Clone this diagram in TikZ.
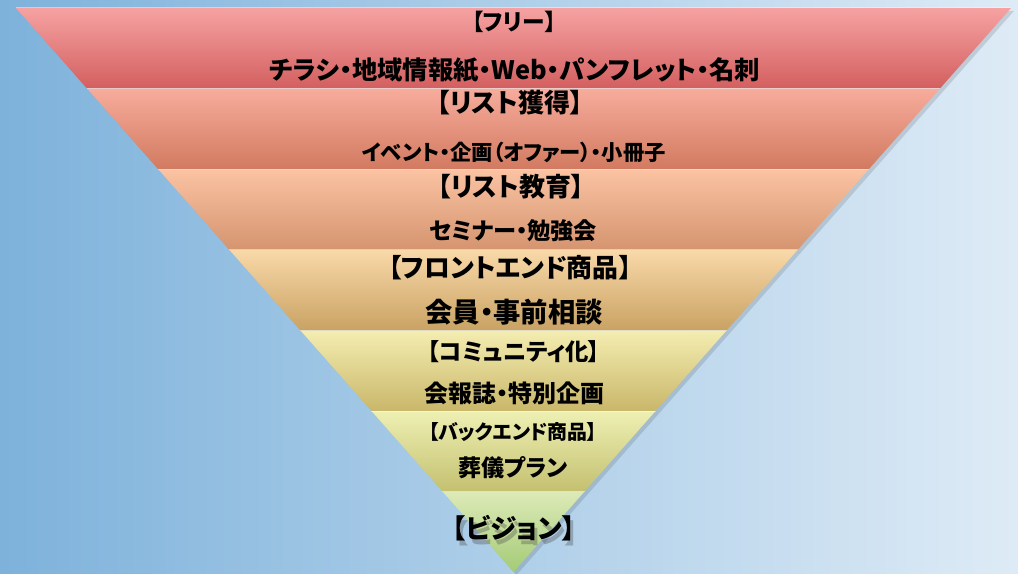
\documentclass[tikz,border=0pt]{standalone}
\usepackage{fontspec}
\newfontfamily\jpfont{Noto Sans CJK JP}[RawFeature=+palt]
\usetikzlibrary{positioning}

\definecolor{bgleft}{HTML}{7EB2DB}
\definecolor{bgright}{HTML}{DEEBF6}

\begin{document}
\begin{tikzpicture}[x=0.75pt,y=-0.75pt,
	head/.style={font=\jpfont\bfseries\fontsize{#1}{#1}\selectfont,inner sep=0pt},
	item/.style={font=\jpfont\bfseries\fontsize{#1}{#1}\selectfont,inner sep=0pt}]
	\useasboundingbox (0,0) rectangle (1018,574);
	\fill[left color=bgleft,right color=bgright] (0,0) rectangle (1018,574);
	\foreach \yt/\yb/\ct/\cb in {8/88.5/F6A2A2/D35F5F, 88.5/169.5/F7AC9C/D27A60, 169.5/250/FBC3A3/D4946F, 250/330.5/F9D9A9/C9A263, 330.5/411/F4EDB1/C9B76A, 411/491.5/EEF0B3/C4C070, 491.5/572/DDEAB8/A4CB76}{
		\definecolor{ctop}{HTML}{\ct}
		\definecolor{cbot}{HTML}{\cb}
		\pgfmathsetmacro\hwt{0.8821*(572-\yt)}
		\pgfmathsetmacro\hwb{0.8821*(572-\yb)}
		\fill[black,opacity=0.12] (513.5-\hwt+3,\yt+3) -- (513.5+\hwt+3,\yt+3) -- (513.5+\hwb+3,\yb+3) -- (513.5-\hwb+3,\yb+3) -- cycle;
		\shade[top color=ctop,bottom color=cbot] (513.5-\hwt,\yt) -- (513.5+\hwt,\yt) -- (513.5+\hwb,\yb) -- (513.5-\hwb,\yb) -- cycle;
		\draw[white,opacity=0.45,line width=0.75pt] (513.5-\hwt,\yt) -- (513.5+\hwt,\yt);
	}
	\node[head=17] (free) at (514,22) {【フリー】};
	\node[item=19] (freeitems) at (515,70) {チラシ・地域情報紙・Web・パンフレット・名刺};
	\node[head=19.5] (list) at (510,103) {【リスト獲得】};
	\node[item=16] (listitems) at (514,152) {イベント・企画（オファー）・小冊子};
	\node[head=19.5] (edu) at (511,187) {【リスト教育】};
	\node[item=17.4] (eduitems) at (513,231) {セミナー・勉強会};
	\node[head=19.4] (front) at (510,268) {【フロントエンド商品】};
	\node[item=20.5] (frontitems) at (514,312) {会員・事前相談};
	\node[head=17.5] (comm) at (514,352) {【コミュニティ化】};
	\node[item=18] (commitems) at (514,393) {会報誌・特別企画};
	\node[head=14.9] (back) at (513,432) {【バックエンド商品】};
	\node[item=17.3] (backitems) at (513,468) {葬儀プラン};
	\node[head=20,text=black!70,opacity=0.35] at (517,533) {【ビジョン】};
	\node[head=20] (vision) at (514,528) {【ビジョン】};
\end{tikzpicture}
\end{document}
